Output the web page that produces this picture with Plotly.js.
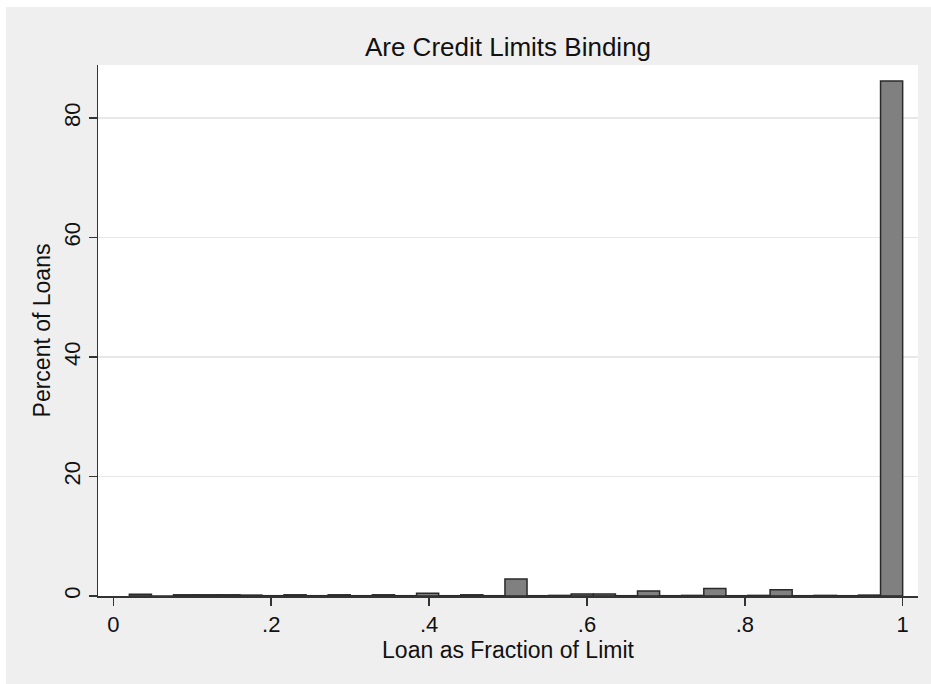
<!DOCTYPE html>
<html>
<head>
<meta charset="utf-8">
<script src="https://cdn.plot.ly/plotly-3.0.1.min.js"></script>
<style>
  html, body { margin: 0; padding: 0; background: #ffffff; }
  #chart { position: absolute; left: 6px; top: 7px; width: 925px; height: 677px; }
</style>
</head>
<body>
<div id="chart"></div>
<script>
// histogram bins: left edge of the first bin and bin width (fraction of limit)
var binStart = 0.0203;
var binWidth = 0.02799;

// percent of loans in each of the 35 bins
var percentOfLoans = [
  0.3, 0.0, 0.2, 0.2, 0.2, 0.15, 0.05, 0.2, 0.05, 0.2,
  0.05, 0.2, 0.05, 0.45, 0.05, 0.2, 0.05, 2.85, 0.05, 0.1,
  0.35, 0.35, 0.05, 0.85, 0.05, 0.1, 1.25, 0.05, 0.1, 1.05,
  0.05, 0.1, 0.05, 0.15, 86.2
];

var xTickVals = [0, 0.2, 0.4, 0.6, 0.8, 1];
var xTickText = ['0', '.2', '.4', '.6', '.8', '1'];
var yTickVals = [0, 20, 40, 60, 80];
var yTickText = ['0', '20', '40', '60', '80'];

var fontFamily = 'Liberation Sans, Arial, sans-serif';

var trace = {
  type: 'bar',
  x0: binStart + binWidth / 2,
  dx: binWidth,
  y: percentOfLoans,
  width: binWidth,
  marker: {
    color: '#808080',
    line: { color: '#2a2a2a', width: 1.5 }
  },
  hoverinfo: 'skip'
};

var layout = {
  width: 925,
  height: 677,
  paper_bgcolor: '#efefef',
  plot_bgcolor: '#ffffff',
  margin: { l: 92, r: 13, t: 58, b: 88 },
  bargap: 0,
  showlegend: false,
  font: { family: fontFamily, color: '#111111' },
  title: {
    text: 'Are Credit Limits Binding',
    font: { size: 26, color: '#111111' },
    x: 0.5,
    xanchor: 'center',
    xref: 'paper',
    yref: 'container',
    y: 1 - 40 / 677,
    yanchor: 'middle'
  },
  xaxis: {
    range: [-0.0194, 1.0194],
    tickvals: xTickVals,
    ticktext: xTickText,
    ticks: 'outside',
    ticklen: 8,
    tickwidth: 1.5,
    tickcolor: '#333333',
    tickfont: { size: 22 },
    showline: true,
    linecolor: '#333333',
    linewidth: 1.5,
    showgrid: false,
    zeroline: false,
    title: {
      text: 'Loan as Fraction of Limit',
      font: { size: 23 },
      standoff: 0
    }
  },
  yaxis: {
    range: [0, 88.87],
    tickvals: yTickVals,
    ticktext: yTickText,
    tickangle: -90,
    ticks: 'outside',
    ticklen: 8,
    tickwidth: 1.5,
    tickcolor: '#333333',
    tickfont: { size: 22 },
    showline: true,
    linecolor: '#333333',
    linewidth: 1.5,
    showgrid: true,
    gridcolor: '#e8e8e8',
    gridwidth: 1.5,
    zeroline: false,
    title: {
      text: 'Percent of Loans',
      font: { size: 23 },
      standoff: 2
    }
  }
};

Plotly.newPlot('chart', [trace], layout, { displayModeBar: false, staticPlot: true });
</script>
</body>
</html>
